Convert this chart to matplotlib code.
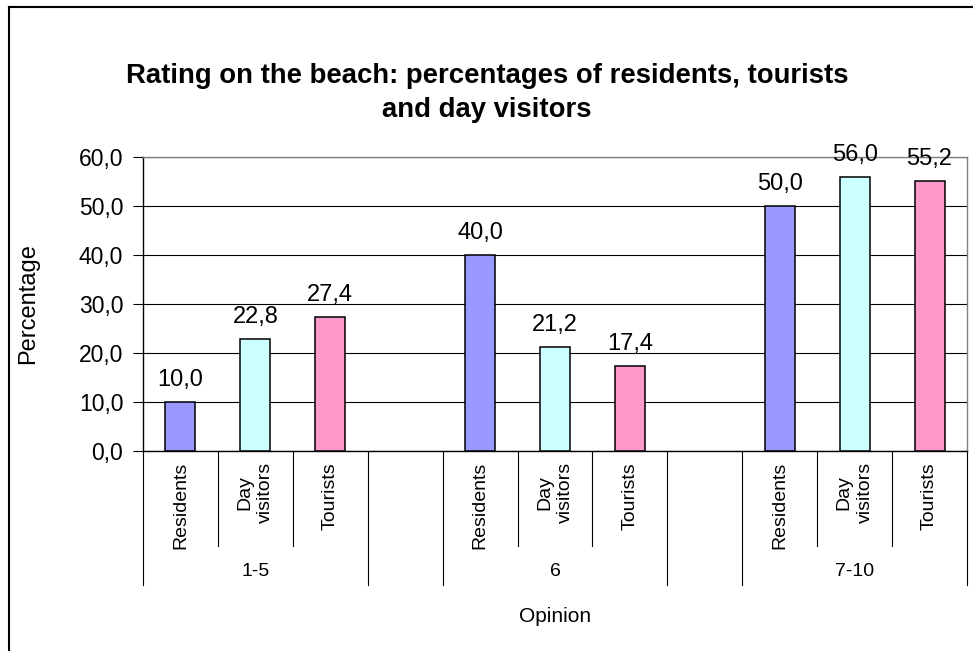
import matplotlib
matplotlib.use("Agg")
import matplotlib.pyplot as plt
from matplotlib.lines import Line2D
import matplotlib.transforms as mtransforms

plt.rcParams['font.family'] = ['Liberation Sans', 'DejaVu Sans']

# Data
groups = ["1-5", "6", "7-10"]
series_labels = ["Residents", "Day\nvisitors", "Tourists"]
residents = [10.0, 40.0, 50.0]
day_visitors = [22.8, 21.2, 56.0]
tourists = [27.4, 17.4, 55.2]
colors = ["#9999FF", "#CCFFFF", "#FF99CC"]
y_ticks = [0, 10, 20, 30, 40, 50, 60]

W, H = 973, 651
fig = plt.figure(figsize=(W / 100, H / 100), dpi=100)
fig.patch.set_facecolor("white")

left, right, top, bottom = 143, 967, 157, 451
ax = fig.add_axes([left / W, (H - bottom) / H, (right - left) / W, (bottom - top) / H])

slots_per_group = 4  # three bars plus an empty spacer slot
n_slots = len(groups) * slots_per_group - 1

all_series = [residents, day_visitors, tourists]
for s, values in enumerate(all_series):
    xs = [g * slots_per_group + s for g in range(len(groups))]
    ax.bar(xs, values, width=0.4, color=colors[s], edgecolor="black",
           linewidth=1.1, zorder=3)
    for x, v in zip(xs, values):
        ax.annotate(f"{v:.1f}".replace(".", ","), (x, v), xytext=(0, 11.5),
                    textcoords="offset points", ha="center", va="baseline",
                    fontsize=17, zorder=4)

ax.set_xlim(-0.5, n_slots - 0.5)
ax.set_ylim(0, 60)
ax.set_yticks(y_ticks)
ax.set_yticklabels([f"{t:.1f}".replace(".", ",") for t in y_ticks], fontsize=16.5)
ax.tick_params(axis="y", length=7.2, width=0.8, pad=7, direction="out")
ax.set_xticks([])
ax.yaxis.grid(True, color="black", linewidth=0.8, zorder=0)
ax.set_axisbelow(True)

for side in ["top", "right"]:
    ax.spines[side].set_color("#808080")
    ax.spines[side].set_linewidth(1.0)
for side in ["left", "bottom"]:
    ax.spines[side].set_color("black")
    ax.spines[side].set_linewidth(1.0)

# Multi-level category axis
trans = mtransforms.blended_transform_factory(ax.transData, ax.transAxes)
ah = bottom - top
short_end = -(546 - bottom) / ah
long_end = -(585 - bottom) / ah
for k in range(n_slots + 1):
    xb = k - 0.5
    pos_in_group = k % slots_per_group
    is_long = pos_in_group in (0, 3)
    yend = long_end if is_long else short_end
    ax.add_line(Line2D([xb, xb], [0, yend], transform=trans, color="black",
                       linewidth=0.8, clip_on=False))

label_top = -(462 - bottom) / ah
for g in range(len(groups)):
    for s, lab in enumerate(series_labels):
        ax.text(g * slots_per_group + s, label_top, lab, transform=trans,
                rotation=90, ha="center", va="top", multialignment="center",
                fontsize=14, linespacing=1.3)
    ax.text(g * slots_per_group + 1, -(571 - bottom) / ah, groups[g],
            transform=trans, ha="center", va="center", fontsize=14)

ax.text(0.5, -(617 - bottom) / ah, "Opinion", transform=ax.transAxes,
        ha="center", va="center", fontsize=15)
fig.text(28 / W, (H - 304) / H, "Percentage", rotation=90, ha="center",
         va="center", fontsize=17)

fig.text(487 / W, (H - 93) / H,
         "Rating on the beach: percentages of residents, tourists\nand day visitors",
         ha="center", va="center", fontsize=19.8, fontweight="bold",
         linespacing=1.4)

# Chart frame
fig.add_artist(Line2D([9 / W, 9 / W], [0, (H - 7) / H], transform=fig.transFigure,
                      color="black", linewidth=1.5))
fig.add_artist(Line2D([9 / W, 1], [(H - 7) / H, (H - 7) / H],
                      transform=fig.transFigure, color="black", linewidth=1.5))

fig.savefig("out.png", dpi=100)
